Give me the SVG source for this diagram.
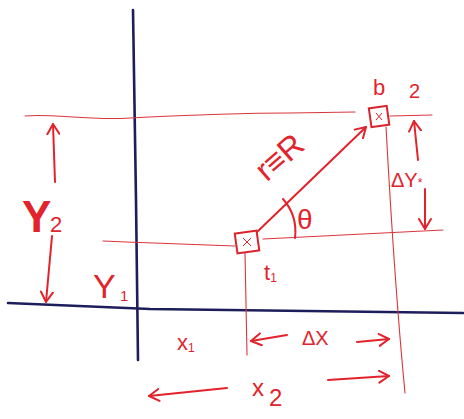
<svg xmlns="http://www.w3.org/2000/svg" width="464" height="419" viewBox="0 0 464 419">
<style>
.ax{fill:none;stroke:#1d1d5c;stroke-width:2.6;stroke-linecap:round}
.gd{fill:none;stroke:#d9363c;stroke-width:1.1;stroke-linecap:round}
.rd{fill:none;stroke:#e2232b;stroke-width:2;stroke-linecap:round;stroke-linejoin:round}
.ar{fill:none;stroke:#e2232b;stroke-width:2;stroke-linecap:round;marker-end:url(#ah)}
.bx{fill:none;stroke:#d8242c;stroke-width:2}
.t{font-family:"Liberation Sans",Arial,sans-serif;fill:#e2232b}
</style>
<defs>
<marker id="ah" viewBox="0 -7 12 14" refX="11" refY="0" markerWidth="12" markerHeight="14" markerUnits="userSpaceOnUse" orient="auto">
<path d="M1,-6 L11,0 L1,6" fill="none" stroke="#e2232b" stroke-width="2" stroke-linecap="round" stroke-linejoin="round"/>
</marker>
</defs>
<rect width="464" height="419" fill="#ffffff"/>
<g id="axes">
<path class="ax" d="M133,10 L136,200 L138,360"/>
<path class="ax" d="M8,303 L150,309 L463,313"/>
</g>
<g id="guides">
<path class="gd" d="M25,116 C50,113 90,121 130,118 C170,116 230,113 290,113 L355,112"/>
<path class="gd" d="M390,116 L432,115"/>
<path class="gd" d="M103,241 C150,243 200,245 235,246"/>
<path class="gd" d="M263,239 C320,236 380,233 443,230"/>
<path class="gd" d="M245,253 L247,355"/>
<path class="gd" d="M386,127 C390,200 396,300 405,393"/>
</g>
<g id="t1">
<rect class="bx" x="236" y="232" width="22" height="20" transform="rotate(-8 247 242)"/>
<path d="M243,238 L251,246 M251,238 L243,246" stroke="#d8242c" stroke-width="1" fill="none"/>
<text class="t" x="264" y="280" font-size="22">t<tspan font-size="12" dy="2">1</tspan></text>
</g>
<g id="b2">
<rect class="bx" x="370" y="107" width="18" height="19" transform="rotate(-8 379 116)"/>
<path d="M376,113 L382,120 M382,113 L376,120" stroke="#d8242c" stroke-width="1" fill="none"/>
<text class="t" x="373" y="95" font-size="22">b</text>
<text class="t" x="409" y="98" font-size="20">2</text>
</g>
<g id="connectors">
<path class="ar" d="M257,232 L366,127"/>
<path class="rd" d="M283,199 A50,50 0 0 1 295,238"/>
<path class="ar" d="M55,182 L53,124"/>
<path class="ar" d="M52,236 L46,302"/>
<path class="ar" d="M418,160 L414,121"/>
<path class="ar" d="M425,189 L425,229"/>
<path class="ar" d="M287,335 L251,341"/>
<path class="ar" d="M357,342 L389,339"/>
<path class="ar" d="M227,388 L149,396"/>
<path class="ar" d="M328,380 L389,376"/>
</g>
<g id="labels">
<text class="t" x="282" y="167" font-size="32" text-anchor="middle" transform="rotate(-41 282 160)">r≡R</text>
<text class="t" x="297" y="229" font-size="28">θ</text>
<text class="t" x="22" y="232" font-size="44" font-weight="bold">Y</text>
<text class="t" x="50" y="232" font-size="22">2</text>
<text class="t" x="93" y="298" font-size="34">Y</text>
<text class="t" x="120" y="301" font-size="15">1</text>
<text class="t" x="177" y="350" font-size="22">x<tspan font-size="12" dy="2">1</tspan></text>
<text class="t" x="302" y="345" font-size="20">ΔX</text>
<text class="t" x="252" y="396" font-size="24">x</text>
<text class="t" x="269" y="406" font-size="24">2</text>
<text class="t" x="391" y="187" font-size="20">ΔY<tspan font-size="12">*</tspan></text>
</g>
</svg>
